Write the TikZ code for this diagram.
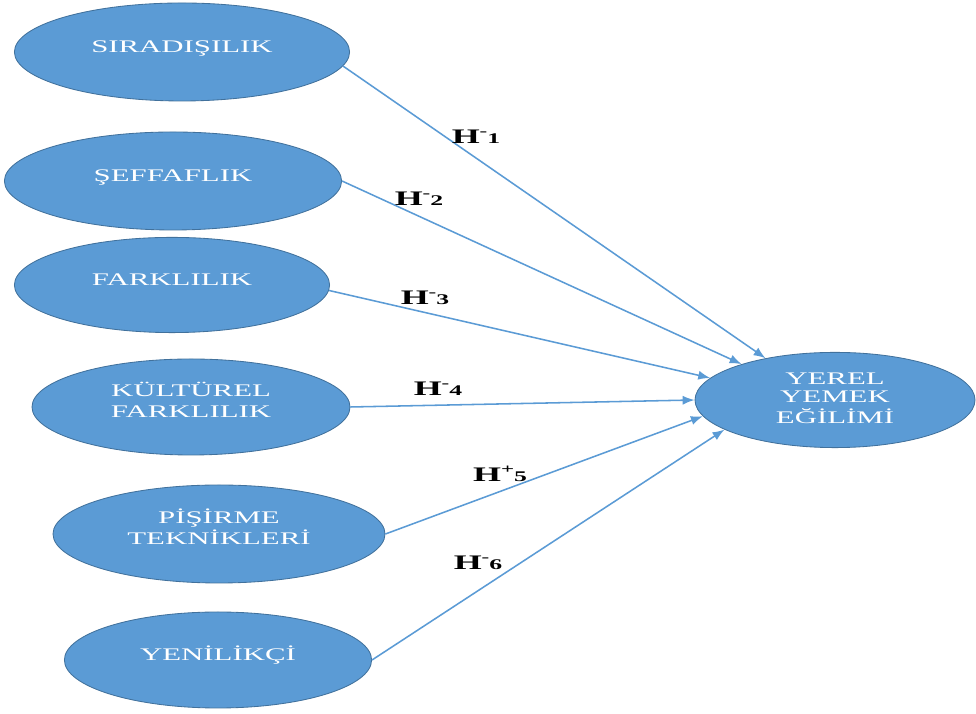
\documentclass[tikz,border=0pt]{standalone}
\usepackage{fontspec}
\setmainfont{Liberation Serif}[FakeStretch=1.74]
\usetikzlibrary{shapes.geometric,arrows.meta}
\definecolor{ovalblue}{HTML}{5B9BD5}
\definecolor{ovaledge}{HTML}{41719C}
\newcommand{\ovaltext}[2][0.2cm]{\raisebox{0pt}[\height][\dimexpr\depth+#1\relax]{\begin{tabular}{@{}c@{}}#2\end{tabular}}}
\newcommand{\hyp}[2]{H\raisebox{0.9ex}{\fontsize{9.4}{10}\selectfont#1}{\fontsize{10.5}{11}\selectfont#2}}
\begin{document}
\begin{tikzpicture}[
	oval/.style={ ellipse, draw=ovaledge, line width=0.6pt, fill=ovalblue, text=white, inner sep=0pt, font=\fontsize{12.6}{14.5}\selectfont },
	link/.style={ draw=ovalblue, line width=1.1pt, -{Latex[length=8.5pt,width=6.5pt]} },
	hyplabel/.style={ inner sep=0pt, font=\bfseries\fontsize{14.7}{16}\selectfont }
]
\useasboundingbox (0,0) rectangle (24.4,17.85);

\node at (4.55,16.55) (sira) [oval,minimum width=8.38cm,minimum height=2.45cm] {\ovaltext{SIRADIŞILIK}};
\node at (4.325,13.325) (seffaf) [oval,minimum width=8.43cm,minimum height=2.45cm] {\ovaltext{ŞEFFAFLIK}};
\node at (4.3,10.725) (fark) [oval,minimum width=7.88cm,minimum height=2.38cm] {\ovaltext{FARKLILIK}};
\node at (4.775,7.675) (kultur) [oval,minimum width=7.95cm,minimum height=2.4cm] {\ovaltext{KÜLTÜREL\\FARKLILIK}};
\node at (5.475,4.5) (pisirme) [oval,minimum width=8.3cm,minimum height=2.45cm] {\ovaltext{PİŞİRME\\TEKNİKLERİ}};
\node at (5.45,1.35) (yenilik) [oval,minimum width=7.68cm,minimum height=2.4cm] {\ovaltext{YENİLİKÇİ}};
\node at (20.875,7.85) (yerel) [oval,minimum width=7.0cm,minimum height=2.38cm,font=\fontsize{12.6}{13}\selectfont] {\ovaltext[0pt]{YEREL\\YEMEK\\EĞİLİMİ}};

\draw[link] (sira.-5) to (yerel.149);
\draw[link] (seffaf.east) to (yerel.159);
\draw[link] (fark.-2) to (yerel.170);
\draw[link] (kultur.east) to (yerel.west);
\draw[link] (pisirme.east) to (yerel.-173);
\draw[link] (yenilik.east) to (yerel.-165);

\node at (11.9,14.425) (h1) [hyplabel] {\hyp{-}{1}};
\node at (10.475,12.875) (h2) [hyplabel] {\hyp{-}{2}};
\node at (10.625,10.4) (h3) [hyplabel] {\hyp{-}{3}};
\node at (10.95,8.125) (h4) [hyplabel] {\hyp{-}{4}};
\node at (12.5,6.0) (h5) [hyplabel] {\hyp{+}{5}};
\node at (11.95,3.775) (h6) [hyplabel] {\hyp{-}{6}};

\end{tikzpicture}
\end{document}
